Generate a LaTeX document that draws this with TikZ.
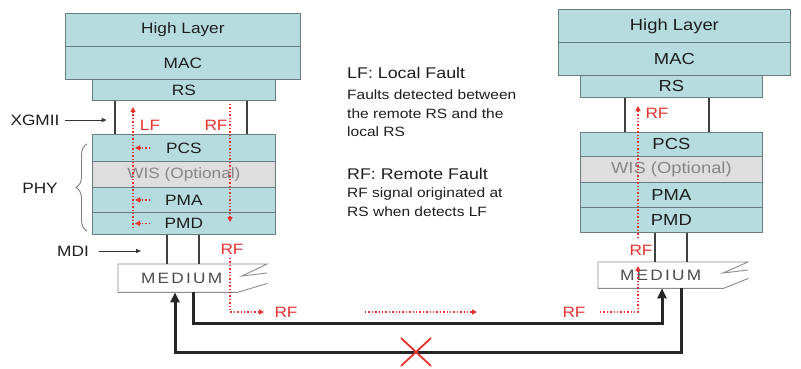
\documentclass[tikz,border=0pt]{standalone}
\usepackage{fontspec}
\setmainfont[FakeStretch=1.15]{Liberation Sans}
\usetikzlibrary{arrows.meta,decorations.pathreplacing}
\definecolor{layerfill}{RGB}{182,220,223}
\definecolor{layerdraw}{RGB}{105,125,128}
\definecolor{wisfill}{RGB}{222,222,222}
\definecolor{wistext}{RGB}{135,135,135}
\definecolor{faultred}{RGB}{228,50,45}
\definecolor{inktext}{RGB}{30,30,30}
\begin{document}
\begin{tikzpicture}[x=1pt,y=-1pt,
  layer/.style={draw=layerdraw, fill=layerfill, line width=0.8pt, inner sep=0pt, anchor=north west, text=inktext, font=\fontsize{15}{18}\selectfont},
  bigger/.style={font=\fontsize{16}{18}\selectfont},
  wislayer/.style={layer, fill=wisfill, text=wistext},
  bus/.style={draw=black!75, line width=2pt},
  medium/.style={inner sep=0pt, anchor=north west, text=black!70, font=\fontsize{15}{16}\selectfont\addfontfeature{LetterSpace=15}},
  medline/.style={draw=black!45, line width=0.9pt},
  fault/.style={draw=faultred, line width=1.4pt, dotted},
  faultarrow/.style={fault, -{Triangle[length=5pt,width=5pt]}},
  faultlabel/.style={text=faultred, font=\fontsize{15}{18}\selectfont, inner sep=0pt},
  link/.style={line width=3pt, draw=black!85, -{Triangle[length=10pt,width=9pt]}},
  annot/.style={text=inktext, font=\fontsize{15}{18}\selectfont, inner sep=0pt},
  pointer/.style={draw=black!80, line width=0.8pt, -{Triangle[length=5pt,width=4pt]}},
  bracestyle/.style={draw=black!50, line width=0.9pt, decorate, decoration={brace, amplitude=11pt}},
  legendhead/.style={anchor=base west, inner sep=0pt, text=inktext, font=\fontsize{15.5}{18}\selectfont},
  legendbody/.style={anchor=north west, align=left, inner sep=0pt, text=inktext, font=\fontsize{13.5}{18.5}\selectfont}
]
\fill[white] (0,0) rectangle (801,368);
\useasboundingbox (0,0) rectangle (801,368);

% ---------- left stack ----------
\node[layer, minimum width=235pt, minimum height=33pt] (hl1) at (65,13) {High Layer};
\node[layer, minimum width=235pt, minimum height=33pt] (mac1) at (65,46) {MAC};
\node[layer, minimum width=183pt, minimum height=21pt] (rs1) at (92,79) {RS};
\node[layer, minimum width=183pt, minimum height=27pt] (pcs1) at (92,134) {PCS};
\node[wislayer, minimum width=183pt, minimum height=26pt] (wis1) at (92,161) {WIS (Optional)};
\node[layer, minimum width=183pt, minimum height=25pt] (pma1) at (92,187) {PMA};
\node[layer, minimum width=183pt, minimum height=22pt] (pmd1) at (92,212) {PMD};
\node[medium, minimum width=119pt, minimum height=28pt] (med1) at (118,264) {\hspace{8pt}MEDIUM};
\draw[medline] (med1.north west) -- ++(149,0) -- ++(-25,12) -- ++(25,-3);
\draw[medline] (med1.north west) -- (med1.south west) -- (med1.south east) -- ++(30,-9);

% ---------- right stack ----------
\node[layer, bigger, minimum width=232pt, minimum height=33pt] (hl2) at (558,9) {High Layer};
\node[layer, bigger, minimum width=232pt, minimum height=33pt] (mac2) at (558,42) {MAC};
\node[layer, bigger, minimum width=182pt, minimum height=22pt] (rs2) at (580,75) {RS};
\node[layer, bigger, minimum width=182pt, minimum height=24pt] (pcs2) at (580,132) {PCS};
\node[wislayer, bigger, minimum width=182pt, minimum height=26pt] (wis2) at (580,156) {WIS (Optional)};
\node[layer, bigger, minimum width=182pt, minimum height=25pt] (pma2) at (580,182) {PMA};
\node[layer, bigger, minimum width=182pt, minimum height=25pt] (pmd2) at (580,207) {PMD};
\node[medium, minimum width=125pt, minimum height=26pt] (med2) at (598,262) {MEDIUM};
\draw[medline] (med2.north west) -- ++(150,0) -- ++(-25,11) -- ++(25,-3);
\draw[medline] (med2.north west) -- (med2.south west) -- (med2.south east) -- ++(25,-10);

% ---------- XGMII / MDI buses ----------
\draw[bus] ([xshift=23pt]rs1.south west) -- ([xshift=23pt]pcs1.north west);
\draw[bus] ([xshift=155pt]rs1.south west) -- ([xshift=155pt]pcs1.north west);
\draw[bus] ([xshift=45pt]rs2.south west) -- ([xshift=45pt]pcs2.north west);
\draw[bus] ([xshift=129pt]rs2.south west) -- ([xshift=129pt]pcs2.north west);
\draw[bus] ([xshift=75pt]pmd1.south west) -- ([xshift=49pt]med1.north west);
\draw[bus] ([xshift=107pt]pmd1.south west) -- ([xshift=81pt]med1.north west);
\draw[bus] ([xshift=75pt]pmd2.south west) -- ([xshift=57pt]med2.north west);
\draw[bus] ([xshift=107pt]pmd2.south west) -- ([xshift=89pt]med2.north west);

% ---------- side annotations ----------
\node[annot] (xgmii) at (35,120) {XGMII};
\draw[pointer] ([xshift=5pt]xgmii.east) -- ++(42,0);
\node[annot] (phy) at (40,188) {PHY};
\draw[bracestyle] (87,231) -- (87,144);
\node[annot] (mdi) at (73,251) {MDI};
\draw[pointer] ([xshift=10pt]mdi.east) -- ++(42,0);

% ---------- links ----------
\draw[link] ([xshift=75pt]med1.south west) -- ++(0,31) -| ([xshift=64pt]med2.south west);
\draw[link] ([xshift=83pt]med2.south west) -- ++(0,64) -| ([xshift=57pt]med1.south west);
\draw[faultred, line width=1.8pt] (401,338) -- (431,366) (401,366) -- (431,338);

% ---------- fault signalling ----------
\coordinate (lfbot) at (133,228);
\coordinate (lftop) at (133,107);
\draw[faultarrow] (lfbot) -- (lftop);
\draw[faultarrow] ([xshift=58pt]pcs1.west) -- ([xshift=43pt]pcs1.west);
\draw[faultarrow] ([xshift=58pt]pma1.west) -- ([xshift=43pt]pma1.west);
\draw[faultarrow] ([xshift=58pt]pmd1.west) -- ([xshift=43pt]pmd1.west);
\coordinate (rftop1) at (230,104);
\coordinate (rfbot1) at (230,222);
\draw[faultarrow] (rftop1) -- (rfbot1);
\node[faultlabel] (lf1) at (150,125) {LF};
\node[faultlabel] (rf1) at (216,125) {RF};
\node[faultlabel] (rf2) at (232,249) {RF};
\coordinate (rfa) at (230,258);
\coordinate (rfb) at (230,312);
\coordinate (rfc) at (264,312);
\draw[faultarrow] (rfa) -- (rfb) -- (rfc);
\node[faultlabel] (rf3) at (286,312) {RF};
\coordinate (rfm1) at (365,312);
\coordinate (rfm2) at (477,312);
\draw[faultarrow] (rfm1) -- (rfm2);
\node[faultlabel] (rf4) at (574,312) {RF};
\coordinate (rfd) at (600,312);
\coordinate (rfe) at (638,312);
\coordinate (rff) at (638,266);
\draw[faultarrow] (rfd) -- (rfe) -- (rff);
\node[faultlabel] (rf5) at (641,250) {RF};
\coordinate (rfg) at (638,238);
\coordinate (rfh) at (638,106);
\draw[faultarrow] (rfg) -- (rfh);
\node[faultlabel] (rf6) at (657,113) {RF};

% ---------- legend ----------
\node[legendhead] (lfhead) at (347,78) {LF: Local Fault};
\node[legendbody] (lfbody) at (347,90) {Faults detected between\\the remote RS and the\\local RS};
\node[legendhead] (rfhead) at (347,179.5) {RF: Remote Fault};
\node[legendbody] (rfbody) at (347,188) {RF signal originated at\\RS when detects LF};
\end{tikzpicture}
\end{document}
